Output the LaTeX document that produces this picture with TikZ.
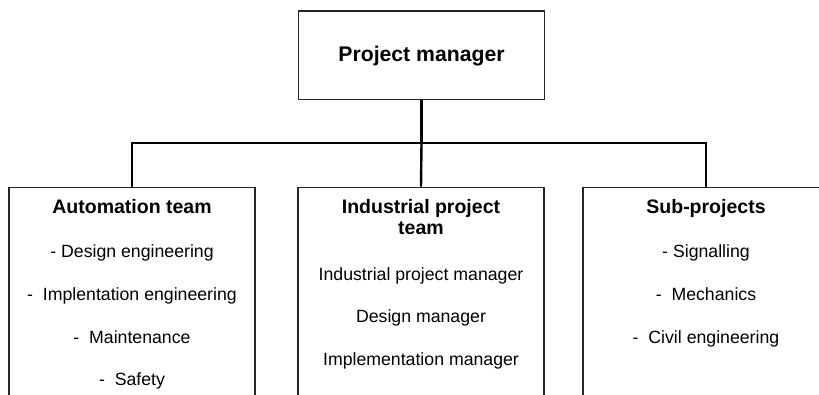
\documentclass[tikz,border=0pt]{standalone}
\usepackage{fontspec}
\setmainfont{Liberation Sans}
\begin{document}
\begin{tikzpicture}[x=1pt,y=-1pt,
  box/.style={draw=black!85, line width=1.2pt, rectangle, inner sep=0pt,
    minimum width=246pt, anchor=north},
  conn/.style={draw=black, line width=2.4pt, line cap=butt, line join=miter},
  toptext/.style={anchor=base, inner sep=0pt, font=\fontsize{21.2}{24}\selectfont\bfseries},
  head/.style={anchor=base, inner sep=0pt, align=center, font=\fontsize{19.5}{21.7}\selectfont\bfseries},
  item/.style={anchor=base, inner sep=0pt, font=\fontsize{17.7}{20}\selectfont}]
\useasboundingbox (0,0) rectangle (819,395);
\clip (0,0) rectangle (819,395);
\fill[white] (0,0) rectangle (819,395);
% boxes
\node[box, minimum width=246.5pt, minimum height=88.5pt] (pm) at (421.5,10.5) {};
\node[box, minimum height=240pt] (auto) at (132,186.7) {};
\node[box, minimum height=240pt] (ind) at (421,186.7) {};
\node[box, minimum height=240pt] (sub) at (706,186.7) {};
% connectors
\coordinate (bus) at (421,143);
\draw[conn] (pm.south) -- (pm.south |- bus);
\draw[conn] (auto.north) -- (auto.north |- bus) -- (sub.north |- bus) -- (sub.north);
\draw[conn] (pm.south |- bus) -- (ind.north);
% texts
\node[toptext] (t0) at (421.5,62) {Project manager};
\node[head] (h1) at (132,213.5) {Automation team};
\node[item] (a1) at (132,257.5) {- Design engineering};
\node[item] (a2) at (132,300.2) {-\ \ Implentation engineering};
\node[item] (a3) at (132,343) {-\ \ Maintenance};
\node[item] (a4) at (132,385.7) {-\ \ Safety};
\node[head] (h2a) at (421,213.5) {Industrial project};
\node[head] (h2b) at (421,235) {team};
\node[item] (b1) at (421,280) {Industrial project manager};
\node[item] (b2) at (421,322.5) {Design manager};
\node[item] (b3) at (421,365.2) {Implementation manager};
\node[head] (h3) at (706,213.5) {Sub-projects};
\node[item] (c1) at (706,257.5) {- Signalling};
\node[item] (c2) at (706,300.2) {-\ \ Mechanics};
\node[item] (c3) at (706,343) {-\ \ Civil engineering};
\end{tikzpicture}
\end{document}
